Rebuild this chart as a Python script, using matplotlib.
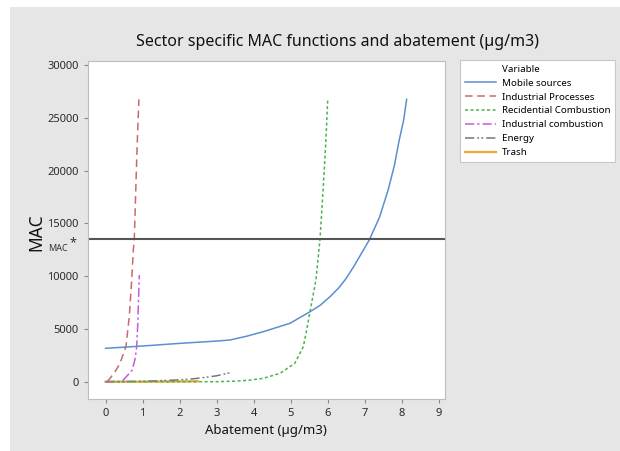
import matplotlib
matplotlib.use("Agg")
import matplotlib.pyplot as plt
from matplotlib.lines import Line2D
from matplotlib.patches import Rectangle

plt.rcParams['font.family'] = ['Noto Sans', 'DejaVu Sans']

# values
mobile_x = [0, 1, 2, 3, 3.36, 3.8, 4.26, 4.98, 5.52, 5.8, 6.06, 6.3, 6.5, 6.7, 6.9, 7.12, 7.4, 7.63, 7.8, 7.93, 8.05, 8.13]
mobile_y = [3160, 3380, 3630, 3850, 3950, 4300, 4740, 5530, 6630, 7250, 8050, 8900, 9800, 10900, 12100, 13420, 15600, 18160, 20500, 22900, 24800, 26750]

indproc_x = [0.05, 0.12, 0.25, 0.39, 0.55, 0.64, 0.70, 0.75, 0.775, 0.81, 0.84, 0.87, 0.90]
indproc_y = [0, 320, 900, 1740, 3320, 6160, 9320, 12480, 13480, 17500, 21000, 24000, 26750]

resid_x = [0, 1, 2, 3, 3.5, 3.9, 4.26, 4.71, 5.11, 5.34, 5.43, 5.52, 5.68, 5.79, 5.88, 5.95, 6.0]
resid_y = [0, 0, 0, 0, 50, 150, 320, 790, 1740, 3320, 4900, 6630, 9630, 13480, 18500, 22900, 26800]

indcomb_x = [0, 0.3, 0.43, 0.52, 0.62, 0.72, 0.80, 0.84, 0.87, 0.89, 0.91]
indcomb_y = [0, 0, 0, 320, 700, 1110, 2200, 3320, 5500, 7800, 10100]

energy_x = [0, 1.0, 1.85, 2.3, 2.7, 3.0, 3.36]
energy_y = [0, 30, 150, 250, 410, 560, 850]

trash_x = [0, 1.0, 2.0, 2.49]
trash_y = [0, 0, 20, 40]

mac_star = 13480

series = [
    ("Mobile sources", mobile_x, mobile_y, "#5b8fd0", "-", 1.1),
    ("Industrial Processes", indproc_x, indproc_y, "#c8696b", (0, (5, 3)), 1.1),
    ("Recidential Combustion", resid_x, resid_y, "#4db34d", (0, (2, 1.6)), 1.1),
    ("Industrial combustion", indcomb_x, indcomb_y, "#c45be0", (0, (6, 2, 1.5, 2)), 1.1),
    ("Energy", energy_x, energy_y, "#777777", (0, (6, 2, 1.2, 1.5, 1.2, 2)), 1.1),
    ("Trash", trash_x, trash_y, "#f0a830", "-", 1.6),
]

fig = plt.figure(figsize=(6.2, 4.51), dpi=100, facecolor="white")
fig.patches.append(Rectangle((10 / 620, 0), 1, 444 / 451, transform=fig.transFigure,
                             facecolor="#e6e6e6", edgecolor="none", zorder=-1))

ax = fig.add_axes([0.1416, 0.1153, 0.5758, 0.7494])
ax.set_facecolor("white")

handles = [Line2D([], [], color="none")]
labels = ["Variable"]
# draw back to front so the blue curve sits on top like the reference
for name, xs, ys, col, ls, lw in series[::-1]:
    ax.plot(xs, ys, color=col, linestyle=ls, linewidth=lw)
for name, xs, ys, col, ls, lw in series:
    handles.append(Line2D([], [], color=col, linestyle=ls, linewidth=lw))
    labels.append(name)

ax.axhline(mac_star, color="#555555", linewidth=1.5)

ax.set_xlim(-0.48, 9.16)
ax.set_ylim(-1640, 30380)
ax.set_xticks(range(0, 10))
ax.set_yticks(range(0, 30001, 5000))
ax.tick_params(direction="out", length=3, color="#888888", labelsize=8, labelcolor="#2a2a2a")
for s in ax.spines.values():
    s.set_color("#bdbdbd")

fig.text(0.545, 0.907, "Sector specific MAC functions and abatement (µg/m3)",
         ha="center", va="center", fontsize=11.5, color="#111111")
fig.text(265.7 / 620, 1 - 430.7 / 451, "Abatement (µg/m3)", ha="center", va="center",
         fontsize=9.5, color="#111111")
fig.text(36 / 620, 1 - 231.7 / 451, "MAC", rotation=90, ha="center", va="center",
         fontsize=12.5, fontweight="bold", color="#111111")
fig.text(58 / 620, 1 - 248 / 451, "MAC", ha="center", va="center", fontsize=6.5, color="#333333")
fig.text(73 / 620, 1 - 243 / 451, "*", ha="center", va="center", fontsize=9, color="#333333")

leg = fig.legend(handles, labels, loc="upper left", bbox_to_anchor=(460 / 620, 1 - 60 / 451),
                 fontsize=7, frameon=True, fancybox=False, framealpha=1, handlelength=3.2,
                 labelspacing=0.5, borderpad=0.5, handletextpad=0.6, borderaxespad=0)
leg.get_frame().set_edgecolor("#c8c8c8")
leg.get_frame().set_facecolor("white")
leg.get_frame().set_linewidth(0.8)

fig.savefig("out.png", dpi=100, facecolor=fig.get_facecolor())
